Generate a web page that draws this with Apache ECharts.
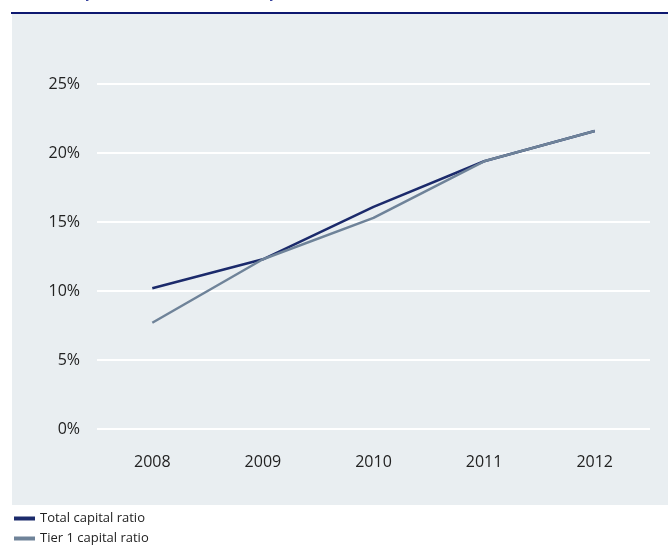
<!DOCTYPE html>
<html>
<head>
<meta charset="utf-8">
<script src="https://cdn.jsdelivr.net/npm/echarts@6/dist/echarts.min.js"></script>
<style>
  html, body { margin: 0; padding: 0; background: #fff; }
  #chart { width: 668px; height: 549px; }
</style>
</head>
<body>
<div id="chart"></div>
<script>
const years = ['2008', '2009', '2010', '2011', '2012']
const totalCapital = [10.2, 12.3, 16.1, 19.4, 21.6]
const tier1Capital = [7.7, 12.3, 15.3, 19.4, 21.6]
const seriesNames = ['Total capital ratio', 'Tier 1 capital ratio']
const titleText = 'Total capital ratio and Tier 1 capital ratio'

const FONT = '"Open Sans", "Noto Sans", sans-serif'

const chart = echarts.init(document.getElementById('chart'))
chart.setOption({
  animation: false,
  backgroundColor: '#fff',
  graphic: [
    { type: 'rect', left: 12, top: 14, shape: { width: 656, height: 491 }, style: { fill: '#e9eef1' }, z: -10 },
    { type: 'rect', left: 11, top: 12, shape: { width: 657, height: 2 }, style: { fill: '#0d1870' }, z: -9 },
    { type: 'text', left: 22, top: -16, style: { text: titleText, fill: '#3a45a0', font: 'bold 16px ' + FONT } }
  ],
  grid: { left: 97, right: 18, top: 84, bottom: 120, containLabel: false },
  legend: {
    orient: 'vertical',
    left: 14,
    top: 512,
    height: 60,
    padding: 0,
    itemGap: 7,
    itemWidth: 21,
    itemHeight: 4,
    icon: 'rect',
    textStyle: { color: '#222', fontSize: 13, fontFamily: FONT, padding: [0, 0, 0, 0] },
    data: seriesNames
  },
  xAxis: {
    type: 'category',
    data: years,
    axisLine: { show: false },
    axisTick: { show: false },
    axisLabel: { color: '#222', fontSize: 16, fontFamily: FONT, margin: 25 }
  },
  yAxis: {
    type: 'value',
    min: 0,
    max: 25,
    interval: 5,
    axisLine: { show: false },
    axisTick: { show: false },
    axisLabel: { formatter: '{value}%', color: '#222', fontSize: 16, fontFamily: FONT, margin: 17 },
    splitLine: { lineStyle: { color: '#ffffff', width: 2 } }
  },
  series: [
    {
      name: seriesNames[0],
      type: 'line',
      data: totalCapital,
      symbol: 'none',
      color: '#1b2a6b',
      lineStyle: { width: 2.5, color: '#1b2a6b' },
      z: 2
    },
    {
      name: seriesNames[1],
      type: 'line',
      data: tier1Capital,
      symbol: 'none',
      color: '#6f8399',
      lineStyle: { width: 2.5, color: '#6f8399' },
      z: 3
    }
  ]
})
</script>
</body>
</html>
